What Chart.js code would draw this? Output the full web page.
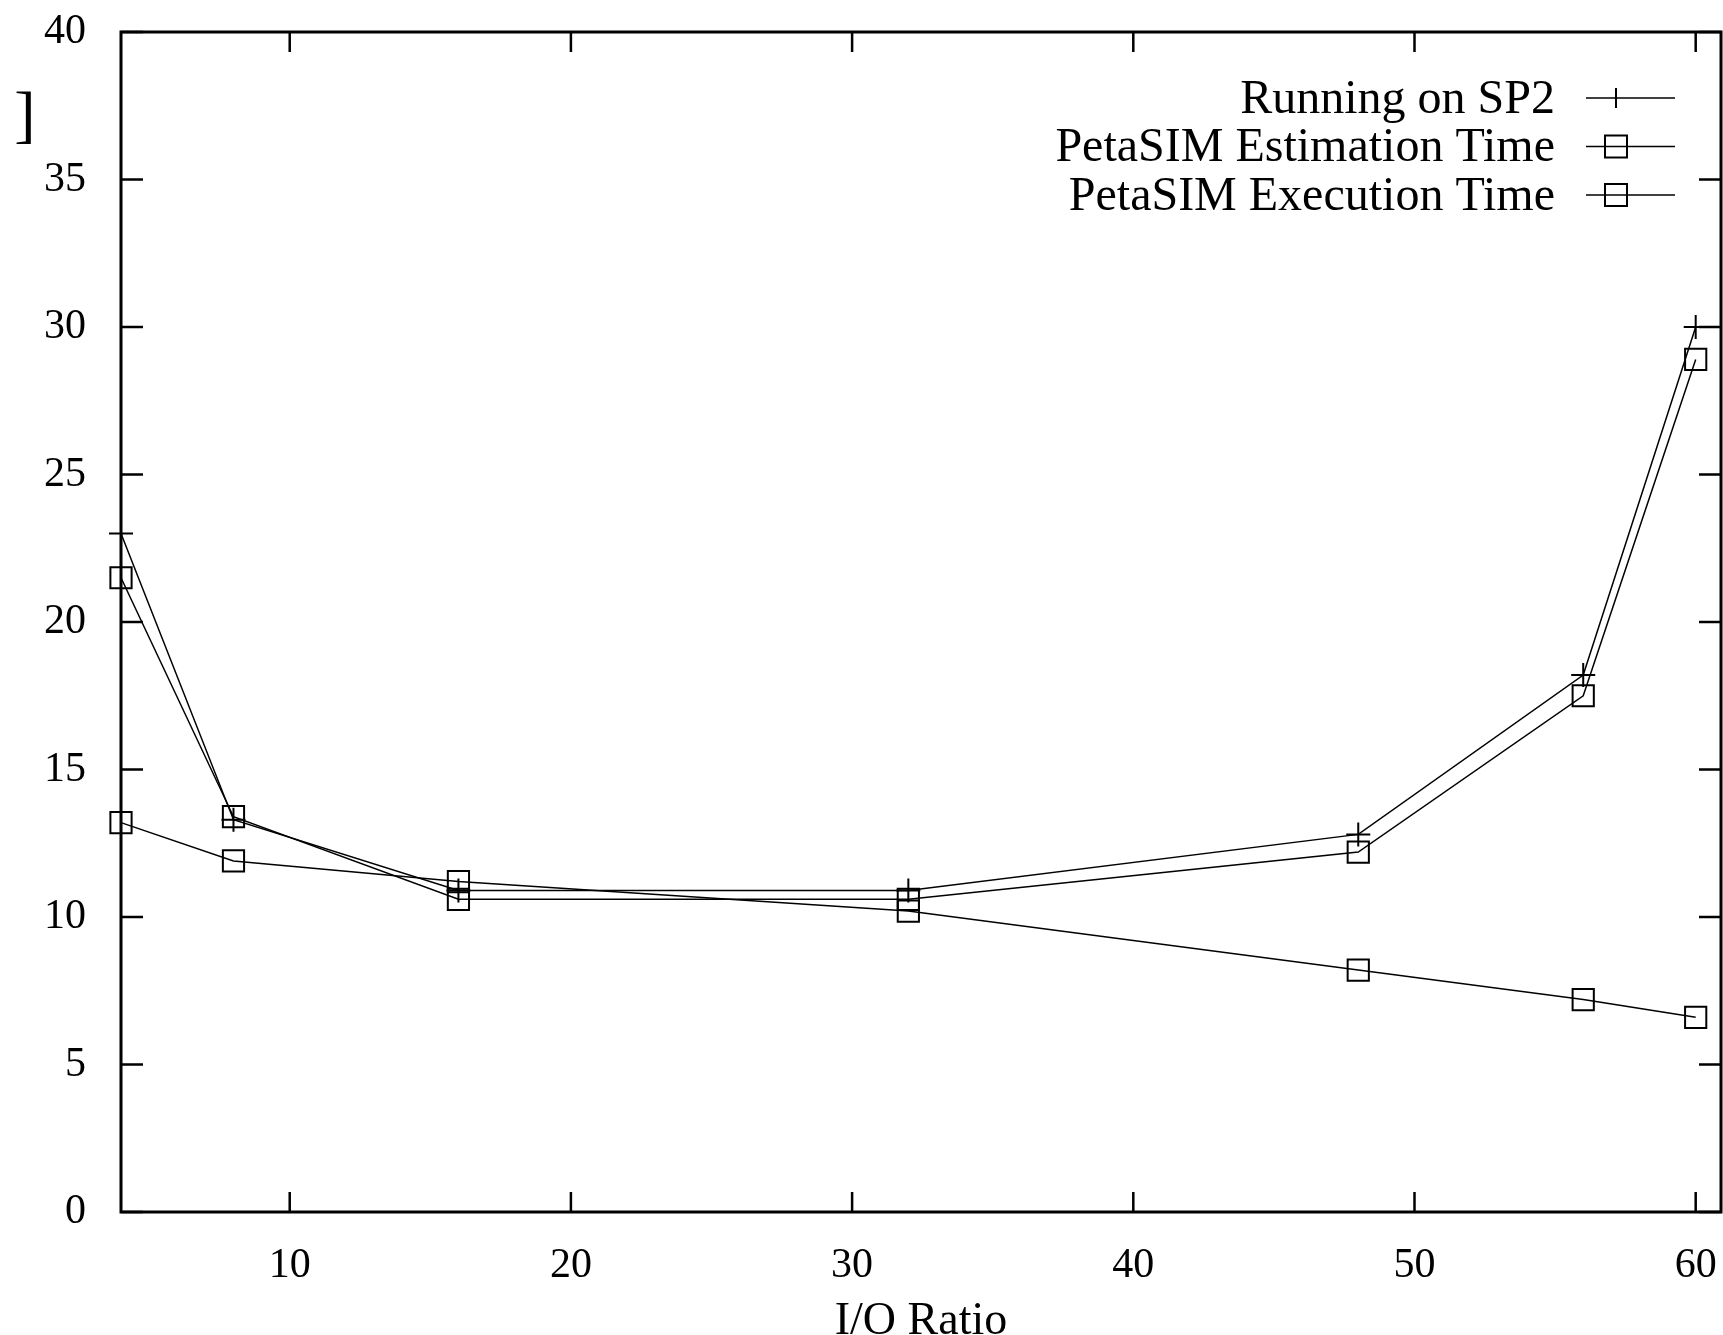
<!DOCTYPE html>
<html>
<head>
<meta charset="utf-8">
<script src="https://cdn.jsdelivr.net/npm/chart.js@4.4.1/dist/chart.umd.min.js"></script>
<style>
    html, body { margin: 0; padding: 0; background: #fff; }
    #caixa { width: 1723px; height: 1335px; position: relative; }
</style>
</head>
<body>
<div id="caixa"><canvas id="graficoIO"></canvas></div>
<script>
const ioRatio = [4, 8, 16, 32, 48, 56, 60];
const runningSP2 = [23.0, 13.3, 10.9, 10.9, 12.8, 18.2, 30.0];
const estimationTime = [21.5, 13.4, 10.6, 10.6, 12.2, 17.5, 28.9];
const executionTime = [13.2, 11.9, 11.2, 10.2, 8.2, 7.2, 6.6];
const seriesNames = ["Running on SP2", "PetaSIM Estimation Time", "PetaSIM Execution Time"];
const xTicks = [10, 20, 30, 40, 50, 60];
const yTicks = [0, 5, 10, 15, 20, 25, 30, 35, 40];
const xTitle = "I/O Ratio";

const fonte = "Liberation Serif";

function pontos(valores) {
    return ioRatio.map((x, i) => ({ x: x, y: valores[i] }));
}

// frame with inward ticks on all four sides, like gnuplot
const moldura = {
    id: "moldura",
    afterDraw(chart) {
        const { ctx, chartArea: a, scales } = chart;
        ctx.save();
        ctx.strokeStyle = "#000";
        ctx.lineWidth = 3;
        ctx.strokeRect(a.left, a.top, a.right - a.left, a.bottom - a.top);
        ctx.lineWidth = 2.5;
        ctx.beginPath();
        xTicks.forEach((v) => {
            const px = scales.x.getPixelForValue(v);
            ctx.moveTo(px, a.bottom);
            ctx.lineTo(px, a.bottom - 20);
            ctx.moveTo(px, a.top);
            ctx.lineTo(px, a.top + 20);
        });
        yTicks.forEach((v) => {
            const py = scales.y.getPixelForValue(v);
            ctx.moveTo(a.left, py);
            ctx.lineTo(a.left + 22, py);
            ctx.moveTo(a.right, py);
            ctx.lineTo(a.right - 22, py);
        });
        ctx.stroke();

        // leftover of the cut y label
        ctx.fillStyle = "#000";
        ctx.font = "64px '" + fonte + "'";
        ctx.textAlign = "center";
        ctx.textBaseline = "middle";
        ctx.fillText("]", 25, 118);
        ctx.restore();
    },
};

// gnuplot style key: text right aligned, sample line and marker
const legenda = {
    id: "legenda",
    afterDraw(chart) {
        const ctx = chart.ctx;
        ctx.save();
        ctx.font = "48px '" + fonte + "'";
        ctx.fillStyle = "#000";
        ctx.strokeStyle = "#000";
        ctx.textAlign = "right";
        ctx.textBaseline = "middle";
        chart.data.datasets.forEach((ds, i) => {
            const y = 98 + i * 48.5;
            ctx.fillText(ds.label, 1555, y + 2);
            ctx.lineWidth = 1.5;
            ctx.beginPath();
            ctx.moveTo(1586, y);
            ctx.lineTo(1675, y);
            ctx.stroke();
            ctx.lineWidth = 2;
            ctx.beginPath();
            if (ds.pointStyle === "cross") {
                ctx.moveTo(1616, y - 10);
                ctx.lineTo(1616, y + 10);
            } else {
                ctx.rect(1605, y - 11, 22, 22);
            }
            ctx.stroke();
        });
        ctx.restore();
    },
};

const ctx = document.getElementById("graficoIO").getContext("2d");

const estiloLinha = {
    borderColor: "#000",
    backgroundColor: "#000",
    borderWidth: 1.5,
    tension: 0,
    pointBorderColor: "#000",
    pointBackgroundColor: "rgba(0,0,0,0)",
    pointBorderWidth: 2,
    clip: false,
};

new Chart(ctx, {
    type: "line",
    data: {
        datasets: [
            {
                ...estiloLinha,
                label: seriesNames[0],
                data: pontos(runningSP2),
                pointStyle: "cross",
                pointRadius: 12,
            },
            {
                ...estiloLinha,
                label: seriesNames[1],
                data: pontos(estimationTime),
                pointStyle: "rect",
                pointRadius: 15,
            },
            {
                ...estiloLinha,
                label: seriesNames[2],
                data: pontos(executionTime),
                pointStyle: "rect",
                pointRadius: 15,
            },
        ],
    },
    options: {
        responsive: true,
        maintainAspectRatio: false,
        animation: false,
        layout: { autoPadding: false, padding: { top: 32, right: 2, left: 0, bottom: 0 } },
        plugins: {
            legend: { display: false },
            tooltip: { enabled: false },
        },
        scales: {
            x: {
                type: "linear",
                min: 4,
                max: 60.9,
                afterBuildTicks: (scale) => {
                    scale.ticks = xTicks.map((v) => ({ value: v }));
                },
                afterFit: (scale) => {
                    scale.height = 123;
                    scale.paddingLeft = 0;
                    scale.paddingRight = 0;
                },
                grid: { display: false, drawTicks: false },
                border: { display: false },
                ticks: {
                    color: "#000",
                    padding: 29,
                    maxRotation: 0,
                    font: { family: fonte, size: 42 },
                },
                title: {
                    display: true,
                    text: xTitle,
                    color: "#000",
                    padding: 0,
                    font: { family: fonte, size: 46, lineHeight: 0.55 },
                },
            },
            y: {
                min: 0,
                max: 40,
                afterBuildTicks: (scale) => {
                    scale.ticks = yTicks.map((v) => ({ value: v }));
                },
                afterFit: (scale) => {
                    scale.width = 121;
                    scale.paddingTop = 0;
                    scale.paddingBottom = 0;
                },
                grid: { display: false, drawTicks: false },
                border: { display: false },
                ticks: {
                    color: "#000",
                    padding: 35,
                    font: { family: fonte, size: 42 },
                },
            },
        },
    },
    plugins: [moldura, legenda],
});
</script>
</body>
</html>
